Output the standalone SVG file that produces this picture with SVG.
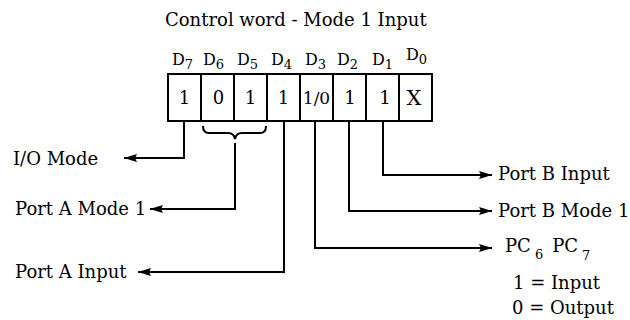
<svg xmlns="http://www.w3.org/2000/svg" width="630" height="320" viewBox="0 0 630 320">
<defs>
<style>
text{font-family:"DejaVu Serif","Liberation Serif",serif;font-size:18px;fill:#000}
.d{font-size:16px}
.v{text-anchor:middle;font-size:18px}
.s{font-size:13px}
.cell{fill:#fff;stroke:#000;stroke-width:2}
.ln{fill:none;stroke:#000;stroke-width:2}
</style>
<marker id="ah" markerWidth="14" markerHeight="10" refX="13" refY="5" orient="auto" markerUnits="userSpaceOnUse">
<path d="M0,1 L5,2.5 L13,5 L5,7.5 L0,9 L2,5 Z" fill="#000"/>
</marker>
</defs>
<text id="title" x="165" y="26">Control word - Mode 1 Input</text>
<g id="labels" class="d">
<text class="d" x="172" y="65">D<tspan class="s" dy="4">7</tspan></text>
<text class="d" x="203" y="65">D<tspan class="s" dy="4">6</tspan></text>
<text class="d" x="237" y="65">D<tspan class="s" dy="4">5</tspan></text>
<text class="d" x="271" y="65">D<tspan class="s" dy="4">4</tspan></text>
<text class="d" x="305" y="65">D<tspan class="s" dy="4">3</tspan></text>
<text class="d" x="337" y="65">D<tspan class="s" dy="4">2</tspan></text>
<text class="d" x="372" y="65">D<tspan class="s" dy="4">1</tspan></text>
<text class="d" x="406" y="60">D<tspan class="s" dy="4">0</tspan></text>
</g>
<g id="word">
<rect class="cell" x="168" y="74" width="33" height="47"/>
<rect class="cell" x="201" y="74" width="33" height="47"/>
<rect class="cell" x="234" y="74" width="33" height="47"/>
<rect class="cell" x="267" y="74" width="33" height="47"/>
<rect class="cell" x="300" y="74" width="33" height="47"/>
<rect class="cell" x="333" y="74" width="33" height="47"/>
<rect class="cell" x="366" y="74" width="33" height="47"/>
<rect class="cell" x="399" y="74" width="33" height="47"/>
<text class="v" x="184.5" y="104">1</text>
<text class="v" x="218.5" y="104">0</text>
<text class="v" x="250.5" y="104">1</text>
<text class="v" x="283.5" y="104">1</text>
<text class="v" x="316.5" y="104" style="font-size:17px">1/0</text>
<text class="v" x="350" y="104">1</text>
<text class="v" x="385" y="104">1</text>
<text class="v" x="414" y="105" style="font-size:21px">X</text>
</g>
<g id="brace">
<path class="ln" d="M203,126 Q203,133 209,133 L228,133 Q234,133 235,139 Q236,133 242,133 L260,133 Q266,133 266,126"/>
</g>
<g id="connectors">
<path class="ln" d="M184,121 V158 H124" marker-end="url(#ah)"/>
<path class="ln" d="M235,143 V209 H150" marker-end="url(#ah)"/>
<path class="ln" d="M284,121 V272 H138" marker-end="url(#ah)"/>
<path class="ln" d="M383,121 V175 H492" marker-end="url(#ah)"/>
<path class="ln" d="M349,121 V211 H492" marker-end="url(#ah)"/>
<path class="ln" d="M315,121 V248 H492" marker-end="url(#ah)"/>
</g>
<g id="io-mode"><text x="13" y="165">I/O Mode</text></g>
<g id="port-a-mode"><text x="15" y="215">Port A Mode 1</text></g>
<g id="port-a-input"><text x="15" y="278">Port A Input</text></g>
<g id="port-b-input"><text x="498" y="180">Port B Input</text></g>
<g id="port-b-mode"><text x="498" y="217">Port B Mode 1</text></g>
<g id="pc">
<text x="505" y="252">PC<tspan class="s" dx="4" dy="7">6</tspan><tspan dx="9" dy="-7">PC</tspan><tspan class="s" dx="4" dy="8">7</tspan></text>
<text x="513" y="289">1 = Input</text>
<text x="512" y="314">0 = Output</text>
</g>
</svg>
